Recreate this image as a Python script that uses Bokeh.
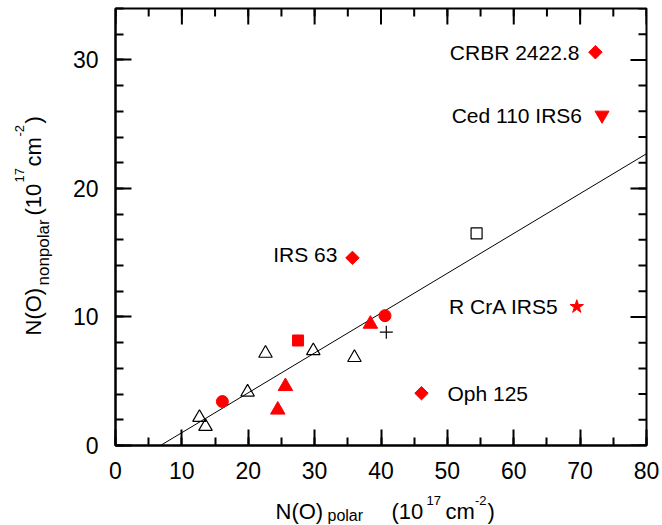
from math import pi

from bokeh.embed import file_html
from bokeh.layouts import column, row
from bokeh.models import FixedTicker, Label, LinearAxis, Range1d
from bokeh.plotting import figure
from bokeh.resources import INLINE

# ---- data: N(O) polar vs nonpolar (units of 1e17 cm^-2) ----
named_diamond_names = ["CRBR 2422.8", "IRS 63", "Oph 125"]
named_diamond_x = [72.3, 35.7, 46.1]
named_diamond_y = [30.6, 14.6, 4.07]

ced_name = ["Ced 110 IRS6"]
ced_x = [73.3]
ced_y = [25.7]

rcra_name = ["R CrA IRS5"]
rcra_x = [69.5]
rcra_y = [10.8]

red_circle_x = [16.1, 40.6]
red_circle_y = [3.42, 10.1]

red_triangle_x = [24.45, 25.6, 38.4]
red_triangle_y = [2.77, 4.6, 9.45]

red_square_x = [27.5]
red_square_y = [8.17]

open_triangle_x = [12.65, 13.56, 19.9, 22.6, 29.8, 36.0]
open_triangle_y = [2.18, 1.48, 4.15, 7.17, 7.37, 6.84]

open_square_x = [54.4]
open_square_y = [16.5]

plus_x = [40.8]
plus_y = [8.82]

# linear fit through the sample
fit_slope = 0.31
fit_intercept = -2.1

x_major = [0, 10, 20, 30, 40, 50, 60, 70, 80]
x_minor = list(range(0, 81, 5))
y_major = [0, 10, 20, 30]
y_minor = list(range(0, 35, 2))

X_START, X_END = 0, 80
Y_START, Y_END = 0, 34

FONT = "Liberation Sans"
RED = "#ff0000"

# page split: a strip on the left for the y title, a strip below for the x title
PAGE_W, PAGE_H = 662, 525
LEFT_W = 60
BOTTOM_H = 35
MAIN_W = PAGE_W - LEFT_W
MAIN_H = PAGE_H - BOTTOM_H
B_LEFT, B_RIGHT, B_TOP, B_BOTTOM = 55, 16, 8, 45

# frame edges in page pixels
FRAME_L = LEFT_W + B_LEFT
FRAME_R = PAGE_W - B_RIGHT
FRAME_T = B_TOP
FRAME_B = MAIN_H - B_BOTTOM

p = figure(
    width=MAIN_W, height=MAIN_H,
    x_range=Range1d(X_START, X_END), y_range=Range1d(Y_START, Y_END),
    output_backend="svg", toolbar_location=None,
    x_axis_location=None, y_axis_location=None,
    min_border_left=B_LEFT, min_border_right=B_RIGHT,
    min_border_top=B_TOP, min_border_bottom=B_BOTTOM,
    outline_line_color="black", outline_line_width=2,
)
p.xgrid.visible = False
p.ygrid.visible = False


def style_axis(ax, standoff):
    ax.axis_line_width = 2
    ax.major_tick_line_width = 2
    ax.minor_tick_line_width = 2
    ax.major_tick_in = 16
    ax.major_tick_out = 0
    ax.minor_tick_in = 8
    ax.minor_tick_out = 0
    ax.major_label_text_font = FONT
    ax.major_label_text_color = "black"
    ax.major_label_text_font_size = "23px"
    ax.major_label_standoff = standoff


xaxis = LinearAxis(ticker=FixedTicker(ticks=x_major, minor_ticks=x_minor))
style_axis(xaxis, 16)
p.add_layout(xaxis, "below")

yaxis = LinearAxis(ticker=FixedTicker(ticks=y_major, minor_ticks=y_minor))
style_axis(yaxis, 17)
p.add_layout(yaxis, "left")

# mirrored inward ticks along the top and right edges
p.ray(x=x_minor, y=Y_END, length=8, length_units="screen", angle=-pi / 2,
      line_color="black", line_width=2)
p.ray(x=x_major, y=Y_END, length=16, length_units="screen", angle=-pi / 2,
      line_color="black", line_width=2)
p.ray(x=X_END, y=y_minor, length=8, length_units="screen", angle=pi,
      line_color="black", line_width=2)
p.ray(x=X_END, y=y_major, length=16, length_units="screen", angle=pi,
      line_color="black", line_width=2)

# fit line, drawn from its zero crossing to the right edge
x0 = -fit_intercept / fit_slope
x1 = X_END
p.line([x0, x1], [fit_slope * x0 + fit_intercept, fit_slope * x1 + fit_intercept],
       line_color="black", line_width=1)

# open symbols
p.scatter(open_triangle_x, open_triangle_y, marker="triangle", size=13.5,
          fill_color=None, line_color="black", line_width=1.2)
p.scatter(open_square_x, open_square_y, marker="square", size=11,
          fill_color=None, line_color="black", line_width=1.2)
p.scatter(plus_x, plus_y, marker="cross", size=13,
          line_color="black", line_width=1.2)

# filled red symbols
p.scatter(red_circle_x, red_circle_y, marker="circle", size=12,
          fill_color=RED, line_color=RED)
p.scatter(red_triangle_x, red_triangle_y, marker="triangle", size=14.5,
          fill_color=RED, line_color=RED)
p.scatter(red_square_x, red_square_y, marker="square", size=11,
          fill_color=RED, line_color=RED)
p.scatter(named_diamond_x, named_diamond_y, marker="square", size=9.5, angle=pi / 4,
          fill_color=RED, line_color=RED)
p.scatter(ced_x, ced_y, marker="inverted_triangle", size=14,
          fill_color=RED, line_color=RED)
p.scatter(rcra_x, rcra_y, marker="star", size=14,
          fill_color=RED, line_color=RED)


def name_label(text, x, y, dx, dy, align):
    p.add_layout(Label(x=x, y=y, text=text, x_offset=dx, y_offset=dy,
                       text_align=align, text_baseline="middle",
                       text_font=FONT, text_font_size="21px", text_color="black"))


name_label(named_diamond_names[0], named_diamond_x[0], named_diamond_y[0], -16, 0, "right")
name_label(named_diamond_names[1], named_diamond_x[1], named_diamond_y[1], -15, 3, "right")
name_label(named_diamond_names[2], named_diamond_x[2], named_diamond_y[2], 26, 0, "left")
name_label(ced_name[0], ced_x[0], ced_y[0], -20, 0, "right")
name_label(rcra_name[0], rcra_x[0], rcra_y[0], -18, 0, "right")


# ---- axis titles, built from pieces so sub/superscripts sit correctly ----
# Each strip shares the main frame's edges along its long side (layouts align
# frames), and its ranges are set so that coordinates equal page pixels.
def piece(f, text, x, y, size, angle=0.0):
    f.add_layout(Label(x=x, y=y, text=text, angle=angle,
                       text_align="left", text_baseline="alphabetic",
                       text_font=FONT, text_font_size=size, text_color="black"))


def bare(f):
    f.xgrid.visible = False
    f.ygrid.visible = False
    return f


MAIN_PT, SUB_PT, SUP_PT = "22px", "17px", "13px"

# x title strip: x = page x, y = page y (range reversed)
xt = bare(figure(width=MAIN_W, height=BOTTOM_H,
                 x_range=Range1d(FRAME_L, FRAME_R),
                 y_range=Range1d(PAGE_H, MAIN_H),
                 output_backend="svg", toolbar_location=None,
                 x_axis_location=None, y_axis_location=None,
                 min_border_left=B_LEFT, min_border_right=B_RIGHT,
                 min_border_top=0, min_border_bottom=0,
                 outline_line_color=None))
piece(xt, "N(O)", 275, 511, MAIN_PT)
piece(xt, "polar", 327, 515, "16px")
piece(xt, "(10", 391, 511, MAIN_PT)
piece(xt, "17", 426, 499.5, SUP_PT)
piece(xt, "cm", 445, 511, MAIN_PT)
piece(xt, "-2", 474.5, 499.5, SUP_PT)
piece(xt, ")", 487, 511, MAIN_PT)

# y title strip: x = page x, y = page y (range reversed), text reads upward
yt = bare(figure(width=LEFT_W, height=MAIN_H,
                 x_range=Range1d(0, LEFT_W),
                 y_range=Range1d(FRAME_B, FRAME_T),
                 output_backend="svg", toolbar_location=None,
                 x_axis_location=None, y_axis_location=None,
                 min_border_left=0, min_border_right=0,
                 min_border_top=B_TOP, min_border_bottom=B_BOTTOM,
                 outline_line_color=None))
piece(yt, "N(O)", 33, 335, MAIN_PT, pi / 2)
piece(yt, "nonpolar", 42.5, 285, SUB_PT, pi / 2)
piece(yt, "(10", 33, 215, MAIN_PT, pi / 2)
piece(yt, "17", 19, 182, SUP_PT, pi / 2)
piece(yt, "cm", 33, 166, MAIN_PT, pi / 2)
piece(yt, "-2", 19, 136, SUP_PT, pi / 2)
piece(yt, ")", 33, 123, MAIN_PT, pi / 2)

layout = row(yt, column(p, xt))

open("out.html", "w").write(file_html(layout, INLINE))
